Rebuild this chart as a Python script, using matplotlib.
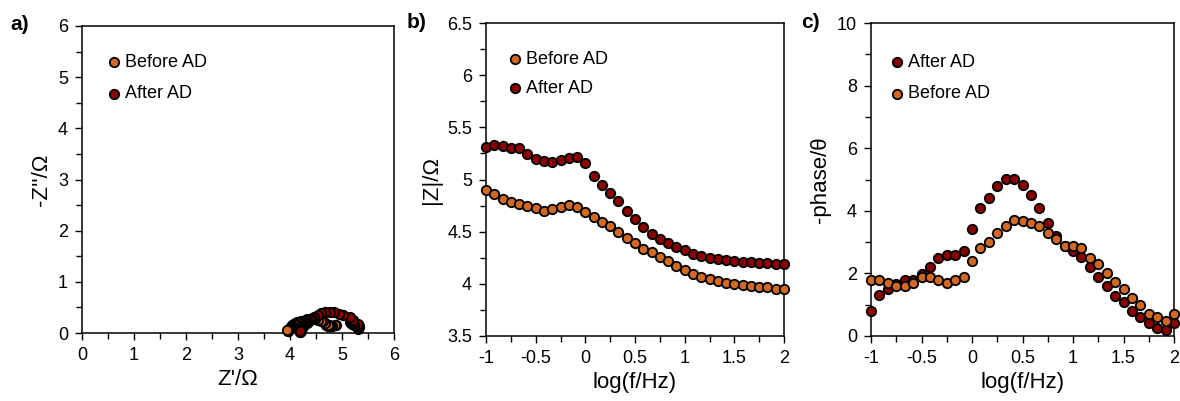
import matplotlib
matplotlib.use('Agg')
import matplotlib.pyplot as plt
from matplotlib.ticker import MultipleLocator

plt.rcParams['font.family'] = ['Liberation Sans', 'DejaVu Sans']

# log frequency, 12 points per decade
logf = [-1 + k / 12 for k in range(37)]

# |Z| / Ohm
z_before = [4.895, 4.86, 4.815, 4.78, 4.764, 4.748, 4.725, 4.70, 4.715, 4.74, 4.754, 4.735,
            4.687, 4.636, 4.597, 4.55, 4.495, 4.444, 4.39, 4.338, 4.303, 4.26, 4.22, 4.175,
            4.133, 4.09, 4.07, 4.044, 4.028, 4.012, 3.996, 3.986, 3.98, 3.97, 3.967, 3.955, 3.95]
z_after = [5.31, 5.326, 5.317, 5.30, 5.30, 5.243, 5.195, 5.18, 5.167, 5.19, 5.205, 5.22,
           5.157, 5.03, 4.95, 4.87, 4.79, 4.70, 4.62, 4.543, 4.476, 4.434, 4.39, 4.357,
           4.32, 4.284, 4.268, 4.252, 4.239, 4.23, 4.223, 4.214, 4.207, 4.204, 4.197, 4.19, 4.19]

# -phase
ph_before = [1.79, 1.79, 1.68, 1.60, 1.60, 1.68, 1.90, 1.90, 1.79, 1.68, 1.79, 1.90,
             2.41, 2.80, 3.00, 3.30, 3.50, 3.71, 3.69, 3.60, 3.52, 3.28, 3.09, 2.89,
             2.89, 2.80, 2.48, 2.30, 2.00, 1.71, 1.50, 1.20, 0.99, 0.70, 0.60, 0.49, 0.70]
ph_after = [0.80, 1.31, 1.49, 1.66, 1.79, 1.79, 1.98, 2.20, 2.49, 2.60, 2.60, 2.70,
            3.41, 4.10, 4.40, 4.80, 5.01, 5.01, 4.82, 4.51, 4.08, 3.60, 3.21, 2.89,
            2.70, 2.51, 2.20, 1.90, 1.60, 1.29, 1.10, 0.81, 0.60, 0.41, 0.27, 0.19, 0.41]

# Nyquist: Z' and -Z''
zre_before = [4.89, 4.86, 4.81, 4.78, 4.76, 4.75, 4.72, 4.70, 4.71, 4.74, 4.75, 4.73,
              4.68, 4.63, 4.59, 4.54, 4.49, 4.44, 4.38, 4.33, 4.30, 4.25, 4.21, 4.17,
              4.13, 4.09, 4.07, 4.04, 4.03, 4.01, 4.00, 3.99, 3.98, 3.97, 3.97, 3.96, 3.95]
zim_before = [0.15, 0.15, 0.14, 0.13, 0.13, 0.14, 0.16, 0.16, 0.15, 0.14, 0.15, 0.16,
              0.20, 0.23, 0.24, 0.26, 0.27, 0.29, 0.28, 0.27, 0.26, 0.24, 0.23, 0.21,
              0.21, 0.20, 0.18, 0.16, 0.14, 0.12, 0.10, 0.08, 0.07, 0.05, 0.04, 0.03, 0.05]
zre_after = [5.31, 5.33, 5.32, 5.30, 5.30, 5.24, 5.19, 5.18, 5.16, 5.19, 5.20, 5.21,
             5.15, 5.02, 4.94, 4.85, 4.77, 4.68, 4.60, 4.53, 4.47, 4.43, 4.38, 4.35,
             4.32, 4.28, 4.27, 4.25, 4.24, 4.23, 4.22, 4.21, 4.21, 4.20, 4.20, 4.19, 4.19]
zim_after = [0.07, 0.12, 0.14, 0.15, 0.17, 0.16, 0.18, 0.20, 0.22, 0.24, 0.24, 0.25,
             0.31, 0.36, 0.38, 0.41, 0.42, 0.41, 0.39, 0.36, 0.32, 0.28, 0.25, 0.22,
             0.20, 0.19, 0.16, 0.14, 0.12, 0.10, 0.08, 0.06, 0.04, 0.03, 0.02, 0.01, 0.03]

c_before = '#D2691E'
c_after = '#8B0000'
ms = 46
fs_tick = 13
fs_label = 16

fig = plt.figure(figsize=(11.8, 4.01), dpi=100)
W, H = 1180, 401
axa = fig.add_axes([82 / W, 1 - 333 / H, 312 / W, 307 / H])
axb = fig.add_axes([486 / W, 1 - 336 / H, 298 / W, 313 / H])
axc = fig.add_axes([871 / W, 1 - 336 / H, 303 / W, 313 / H])


def style(ax):
    for s in ax.spines.values():
        s.set_linewidth(1.1)
        s.set_color('black')
    ax.tick_params(which='major', direction='out', length=5, width=1, labelsize=fs_tick, pad=5)
    ax.tick_params(which='minor', direction='out', length=4, width=1)


def dots(ax, x, y, c, lab):
    ax.scatter(x, y, s=ms, c=c, edgecolors='black', linewidths=1.3, label=lab, zorder=3, clip_on=False)


def leg(ax, x, y, sp):
    ax.legend(loc='upper left', bbox_to_anchor=(x, y), frameon=False, fontsize=fs_tick,
              handlelength=0.7, handletextpad=0.25, borderpad=0, borderaxespad=0,
              labelspacing=sp, scatterpoints=1)


# a) Nyquist
dots(axa, zre_before, zim_before, c_before, 'Before AD')
dots(axa, zre_after, zim_after, c_after, 'After AD')
axa.set_xlim(0, 6)
axa.set_ylim(0, 6)
axa.xaxis.set_major_locator(MultipleLocator(1))
axa.xaxis.set_minor_locator(MultipleLocator(0.5))
axa.yaxis.set_major_locator(MultipleLocator(1))
axa.yaxis.set_minor_locator(MultipleLocator(0.5))
axa.set_xlabel("Z'/\u03a9", fontsize=fs_label)
axa.set_ylabel("-Z''/\u03a9", fontsize=fs_label)
style(axa)
leg(axa, 0.083, 0.909, 0.8)

# b) |Z|
dots(axb, logf, z_before, c_before, 'Before AD')
dots(axb, logf, z_after, c_after, 'After AD')
axb.set_xlim(-1, 2)
axb.set_ylim(3.5, 6.5)
axb.xaxis.set_major_locator(MultipleLocator(0.5))
axb.xaxis.set_minor_locator(MultipleLocator(0.25))
axb.yaxis.set_major_locator(MultipleLocator(0.5))
axb.yaxis.set_minor_locator(MultipleLocator(0.25))
axb.set_xlabel('log(f/Hz)', fontsize=fs_label)
axb.set_ylabel('|Z|/\u03a9', fontsize=fs_label)
style(axb)
axb.xaxis.set_major_formatter(plt.FuncFormatter(lambda v, p: f'{v:g}'))
axb.yaxis.set_major_formatter(plt.FuncFormatter(lambda v, p: f'{v:g}'))
leg(axb, 0.077, 0.911, 0.65)

# c) phase
dots(axc, logf, ph_after, c_after, 'After AD')
dots(axc, logf, ph_before, c_before, 'Before AD')
axc.set_xlim(-1, 2)
axc.set_ylim(0, 10)
axc.xaxis.set_major_locator(MultipleLocator(0.5))
axc.xaxis.set_minor_locator(MultipleLocator(0.25))
axc.yaxis.set_major_locator(MultipleLocator(2))
axc.yaxis.set_minor_locator(MultipleLocator(1))
axc.set_xlabel('log(f/Hz)', fontsize=fs_label)
axc.set_ylabel('-phase/\u03b8', fontsize=fs_label)
style(axc)
axc.xaxis.set_major_formatter(plt.FuncFormatter(lambda v, p: f'{v:g}'))
leg(axc, 0.066, 0.901, 0.8)

fig.text(10 / W, 1 - 25 / H, 'a)', fontsize=15, fontweight='bold', va='center')
fig.text(407 / W, 1 - 23 / H, 'b)', fontsize=15, fontweight='bold', va='center')
fig.text(801 / W, 1 - 23 / H, 'c)', fontsize=15, fontweight='bold', va='center')

fig.savefig('out.png', dpi=100)
